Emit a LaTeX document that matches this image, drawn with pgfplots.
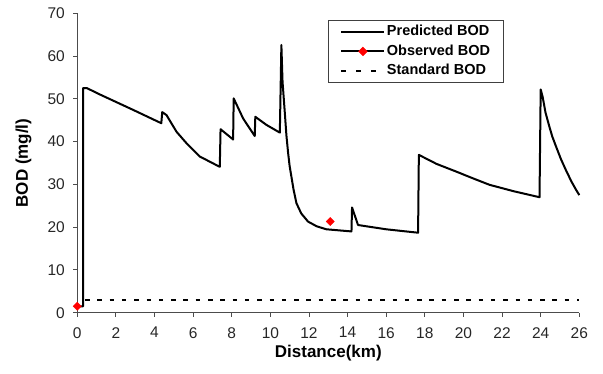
\documentclass[border=0pt]{standalone}
\usepackage{pgfplots}
\pgfplotsset{compat=1.18}
\usepackage{fontspec}
\setmainfont{Liberation Sans}
\begin{document}
\begin{tikzpicture}[x=1pt,y=1pt]
\useasboundingbox (-77.3,-61.3) rectangle (525.7,312.7);
\begin{axis}[
  at={(0,0)}, anchor=south west,
  scale only axis, width=502pt, height=299.4pt,
  xmin=0, xmax=26, ymin=0, ymax=70,
  xtick={0,2,...,26}, ytick={0,10,...,70},
  axis x line*=bottom, axis y line*=left,
  axis line style={draw=black!70, line width=1pt, -},
  tick style={draw=black!70, line width=0.9pt},
  tick align=outside, major tick length=4pt,
  ticklabel style={font=\fontsize{15.5}{17}\selectfont, text=black!85},
  xticklabel style={yshift=-7pt},
  yticklabel style={xshift=-5pt},
  /pgf/number format/assume math mode=true,
  xlabel={\textbf{Distance(km)}},
  ylabel={\textbf{BOD (mg/l)}},
  label style={font=\fontsize{17}{19}\selectfont},
  xlabel style={at={(axis description cs:0.5,-0.1353)}, anchor=center},
  ylabel style={at={(axis description cs:-0.1072,0.5)}, anchor=center, rotate=0},
  clip=false,
  legend style={at={(0.4994,0.9776)}, anchor=north west, draw=black!75, line width=0.9pt,
    font=\fontsize{14.5}{16}\selectfont\bfseries, row sep=2.5pt, inner xsep=12pt, inner ysep=3pt,
    nodes={text height=11pt, text depth=3pt, inner sep=1.5pt},
    /tikz/every even column/.style={column sep=0pt}},
  legend cell align=left,
]
\addplot[black, line width=2pt, line join=round,
  legend image code/.code={\draw[black, line width=2pt] (0pt,0pt) -- (43pt,0pt);}] coordinates {
(0,1.5) (0.3,1.5) (0.3,52.5) (0.5,52.5) (1.18,51.0) (2.9,47.4) (4.35,44.3)
(4.4,46.9) (4.62,46.2) (5.14,42.3) (5.66,39.6) (6.35,36.5) (7.38,34.1)
(7.42,42.9) (8.07,40.5) (8.1,50.1) (8.59,45.4) (9.19,41.3)
(9.22,45.8) (9.8,43.9) (10.49,42.1)
(10.57,62.6) (10.63,54.0) (10.75,46.6) (10.83,41.5) (10.92,37.3) (11.0,34.2) (11.09,31.8) (11.2,28.8) (11.35,25.6) (11.6,23.2) (11.95,21.3) (12.4,20.2) (12.9,19.5) (14.2,19.0)
(14.23,24.6) (14.54,20.5) (16.0,19.5) (17.65,18.7)
(17.69,36.9) (18.6,34.8) (19.62,33.0) (20.5,31.4) (21.35,29.9) (22.6,28.4) (23.94,27.0)
(24.0,52.2) (24.1,50.5) (24.25,46.8) (24.45,43.5) (24.6,41.2) (24.8,38.8) (25.05,35.9) (25.3,33.4) (25.6,30.6) (25.85,28.6) (26.0,27.5)
};
\addlegendentry{Predicted BOD}
\addplot[only marks, mark=square*, mark size=2.9pt, red, mark options={fill=red, rotate=45},
  legend image code/.code={\draw[black, line width=2pt] (0pt,0pt) -- (43pt,0pt);
    \draw[red, fill=red] plot[mark=square*, mark size=2.9pt, mark options={rotate=45}] coordinates {(21.5pt,0pt)};}] coordinates {(0,1.5) (13.1,21.3)};
\addlegendentry{Observed BOD}
\addplot[black, line width=1.6pt, dash pattern=on 4.5pt off 7.8pt,
  legend image code/.code={\draw[black, line width=1.8pt, dash pattern=on 5pt off 10pt] (0pt,0pt) -- (43pt,0pt);}] coordinates {(0.4,3) (26,3)};
\addlegendentry{Standard BOD}
\end{axis}
\end{tikzpicture}
\end{document}
